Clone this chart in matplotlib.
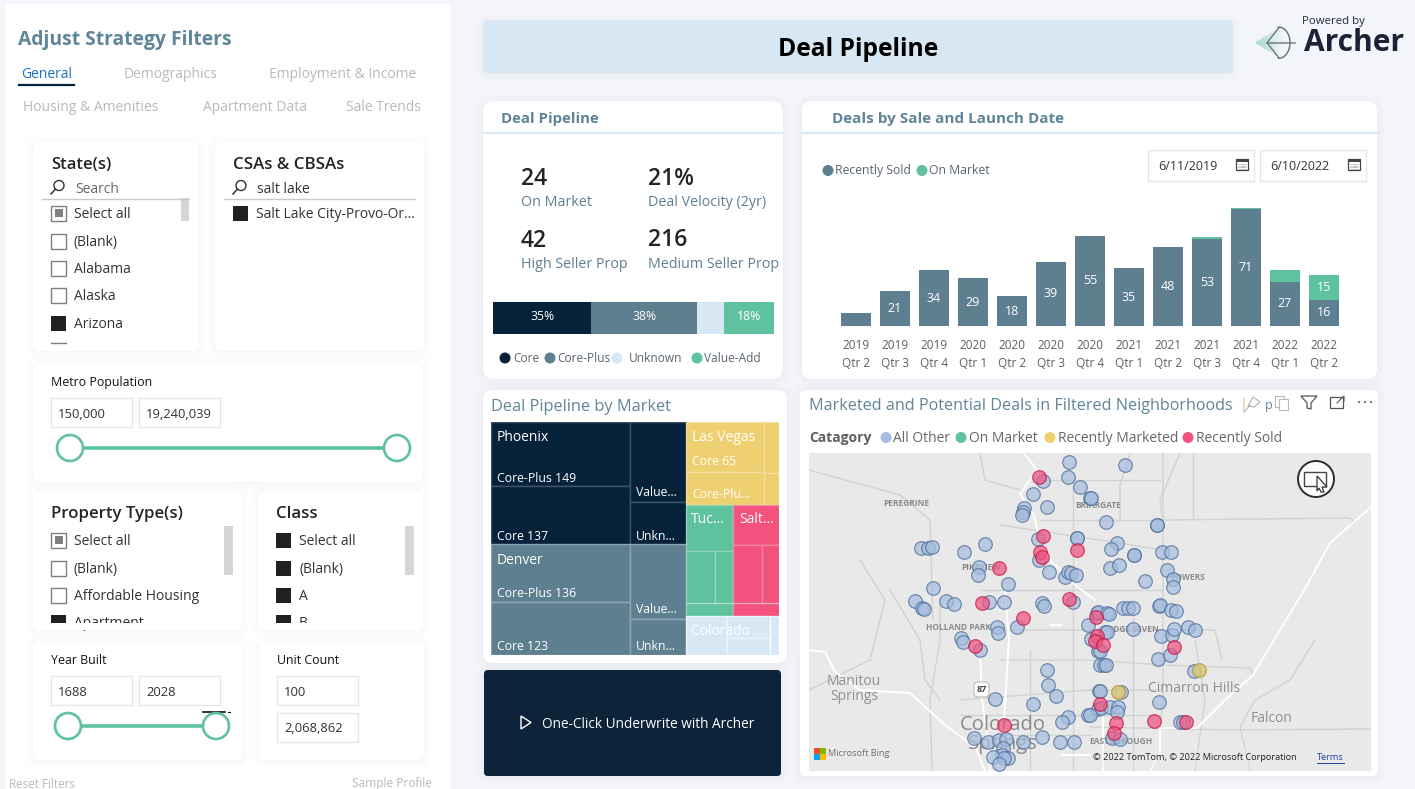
#!/usr/bin/env python3
"""Deal Pipeline dashboard, redrawn with matplotlib. Page is laid out in pixels."""
import matplotlib
matplotlib.use("Agg")
import matplotlib.pyplot as plt
from matplotlib.patches import FancyBboxPatch, Rectangle, Circle, Polygon, Arc

W, H = 1415, 789
plt.rcParams["font.family"] = ["Open Sans", "DejaVu Sans"]

PAGE = "#F3F5FA"; NAVY = "#06223A"; SLATE = "#5E7F90"; PALE = "#D7E8F4"
GREEN = "#5EC29F"; YELLOW = "#EFD070"; PINK = "#F2527B"; INK = "#252423"
HEAD = "#5F8598"; GREY = "#666666"; FAINT = "#B9B9B9"; BOX = "#E6E6E6"

# bars: deals by quarter
QUARTERS = ["2019\nQtr 2", "2019\nQtr 3", "2019\nQtr 4", "2020\nQtr 1", "2020\nQtr 2",
            "2020\nQtr 3", "2020\nQtr 4", "2021\nQtr 1", "2021\nQtr 2", "2021\nQtr 3",
            "2021\nQtr 4", "2022\nQtr 1", "2022\nQtr 2"]
RECENTLY_SOLD = [8, 21, 34, 29, 18, 39, 55, 35, 48, 53, 71, 27, 16]
ON_MARKET = [0, 0, 0, 0, 0, 0, 0, 0, 0, 1, 1, 7, 15]

# strategy split
STRATEGY = ["Core", "Core-Plus", "Unknown", "Value-Add"]
STRATEGY_SHARE = [34.9, 37.7, 9.6, 17.8]

# treemap values
PHOENIX = [149, 137, 75, 40]
DENVER = [136, 123, 70, 34]
LAS_VEGAS = [65, 43, 13, 8]
TUCSON = [36, 25, 16, 10]
SALT_LAKE = [31, 28, 17, 10]
COLORADO = [27, 16, 12, 6]

# map points in screen position
OTHER_X = [1068.7, 1068.3, 1079.7, 1090, 1043.3, 1033.3, 1046.7, 1024.3, 1023.3, 1021.7, 1038.3,
           1076.7, 1076.7, 920.7, 928, 932, 963.7, 985, 979.3, 978.3, 1039.3, 1049, 1065, 1068.3,
           1070.7, 1075.7, 1008.3, 933.3, 1124.7, 1091, 1105.7, 1157, 1157, 1116.7, 1110.7,
           1134.3, 1134.3, 1162.3, 1170.7, 1110, 1119.3, 1167.3, 1145, 1173.3, 1173, 914.7, 922,
           924, 945.7, 954.3, 989.3, 1004.3, 1042.3, 1044, 1073.3, 1096.7, 1017.3, 997.3, 998.3,
           960.7, 962.7, 980, 1046.7, 1047.7, 1056.3, 995, 1032.7, 1068.3, 1062.3, 1088.3, 1042,
           974.3, 1060, 1074, 988.3, 999, 1005.7, 1022.7, 1003.3, 1001.7, 992.7, 1008.3, 1004,
           999, 1088.3, 1090.7, 1098.3, 1100, 1099.3, 1098.3, 1098.3, 1107.3, 1109.3, 1123.3,
           1127.7, 1133.3, 1159.3, 1160, 1171, 1176, 1132.7, 1105, 1106.7, 1160.7, 1172.3, 1173.7,
           1188.3, 1195.3, 1100, 1158.3, 1170.3, 1104, 1106, 1194, 1100, 1159, 1101, 1110, 1118.3,
           1116.7, 1090, 1180, 1182.7, 1111.7, 1120, 1120.7]
OTHER_Y = [462, 477.3, 487, 498, 480.7, 494.3, 507, 508.3, 511.7, 515, 538.7,
           537.7, 538.3, 548.3, 547.7, 547.3, 552, 544.3, 566.7, 575.3, 560, 571.7, 576.7, 572.3,
           572.7, 575, 584, 588.3, 465.3, 498.3, 522, 525, 525, 543, 549.3,
           555.3, 555.3, 552, 552, 568, 565, 570, 580.7, 579, 586.7, 601, 608.3,
           609, 601.3, 604, 601.7, 601.7, 603.3, 606, 601.7, 613.3, 627, 626.7, 633.3,
           637.7, 641.7, 650, 669.7, 684.7, 696, 699.3, 703.7, 717, 722.3, 715, 737,
           737.7, 742.3, 742.3, 741.7, 739.7, 739.3, 741.7, 748.3, 755, 757.3, 758.3, 758.3,
           764.3, 625, 639, 650.7, 665, 691, 709, 611.7, 612.7, 614.3, 607.7,
           608.3, 607.7, 606, 605, 610, 611, 628.7, 631.7, 632.3, 635.7, 635, 629.3,
           626.7, 629.7, 650.7, 658.7, 655.3, 665, 664.7, 671.3, 691, 701.7, 708.3, 706.7, 706.7,
           711.7, 715, 722.3, 722, 737.7, 739, 692.3]
SOLD_X = [1039.3, 1043.3, 1040.3, 1041.7, 1076.7, 999.3, 982, 1068.7, 1022.7, 975, 1004, 1095.7,
          1096.7, 1095, 1102.7, 1173.7, 1100, 1116, 1154.3, 1186.3, 1114]
SOLD_Y = [477.3, 536.3, 551.7, 556.7, 550, 568.3, 602.7, 599, 617.7, 646.3, 724.7, 617.3,
          636, 641, 645, 647.3, 703.7, 722.7, 721, 722, 733]
MARKETED_X = [1198.7, 1118.3]
MARKETED_Y = [669.7, 692]

# base map roads
WHITE_ROADS = [
    [(1024, 453), (1037, 470), (1020, 494), (1034, 516), (1040, 540), (1052, 562), (1075, 585), (1095, 600)],
    [(1005, 590), (1009, 640), (1004, 720), (1002, 771)],
    [(980, 650), (982, 700), (987, 735), (990, 771)],
    [(809, 650), (825, 652), (835, 672), (860, 690), (910, 693), (945, 725), (976, 748), (985, 771)],
    [(1371, 507), (1330, 543), (1306, 587), (1277, 635), (1253, 675), (1223, 702), (1197, 728), (1160, 728), (1160, 752), (1150, 771)],
    [(1103, 712), (1103, 771)],
    [(1050, 625), (1062, 625)],
    [(1062, 755), (1090, 755)],
]
GREY_ROADS = [
    [(1163, 520), (1350, 518), (1354, 522)],
    [(1193, 453), (1193, 519)],
    [(1090, 727), (1230, 730), (1370, 729)],
    [(1163, 453), (1163, 700), (1160, 728)],
    [(1130, 453), (1120, 485), (1120, 520)],
    [(1073, 480), (1073, 560), (1073, 771)],
    [(1040, 480), (1160, 480)],
    [(1040, 520), (1163, 520)],
    [(1000, 525), (1100, 540), (1163, 550)],
    [(1000, 660), (1090, 660), (1163, 665), (1250, 668), (1253, 675)],
    [(960, 700), (1090, 690), (1160, 690)],
    [(990, 630), (1090, 630), (1215, 630), (1222, 660)],
    [(980, 590), (1050, 590), (1163, 590)],
    [(940, 600), (940, 640), (930, 700), (932, 771)],
    [(890, 590), (920, 640), (925, 680), (940, 700)],
    [(1030, 650), (1030, 771)],
    [(1133, 600), (1133, 771)],
    [(1195, 640), (1205, 700), (1195, 771)],
    [(809, 470), (900, 495), (930, 520), (933, 620)],
    [(980, 453), (985, 480), (1020, 490)],
    [(1250, 770), (1240, 727), (1255, 700), (1290, 680), (1315, 640)],
    [(1180, 453), (1160, 500), (1163, 520)],
    [(809, 690), (870, 660), (885, 600), (860, 560)],
    [(990, 735), (1090, 735)],
    [(960, 715), (1160, 715)],
]
ROAD_LABELS = ["PEREGRINE", "BRIARGATE", "POWERS", "HOLLAND PARK", "PIKEVIEW", "RIDGE SEVEN", "EASTBOROUGH"]
ROAD_LABEL_X = [906, 1098, 1188, 958, 981, 1132, 1121]
ROAD_LABEL_Y = [503, 505, 577, 628, 567, 630, 742]
PLACES = ["Manitou\nSprings", "Cimarron Hills", "Falcon"]
PLACE_X = [854, 1194, 1272]
PLACE_Y = [689, 689, 718]

fig = plt.figure(figsize=(W / 100, H / 100), dpi=100, facecolor=PAGE)
bg = fig.add_axes([0, 0, 1, 1])
bg.set_xlim(0, W)
bg.set_ylim(H, 0)
bg.axis("off")


def px_axes(x0, y0, x1, y1):
    return fig.add_axes([x0 / W, 1 - y1 / H, (x1 - x0) / W, (y1 - y0) / H])


def txt(x, y, s, size=10, color=INK, weight="normal", ha="left", va="center", ax=None, **kw):
    return (ax or bg).text(x, y + 1.5, s, fontsize=size, color=color, fontweight=weight, ha=ha, va=va, **kw)


def card(x0, y0, x1, y1, r=7, fc="white", shadow=True):
    if shadow:
        for g in (10, 7, 4, 2):
            bg.add_patch(FancyBboxPatch((x0 - g + 2, y0 - g + 3), x1 - x0 + 2 * g - 4, y1 - y0 + 2 * g - 4,
                                        boxstyle=f"round,pad=0,rounding_size={r + g}", fc="#000000",
                                        ec="none", alpha=0.009))
    bg.add_patch(FancyBboxPatch((x0, y0), x1 - x0, y1 - y0, boxstyle=f"round,pad=0,rounding_size={r}",
                                fc=fc, ec="none"))


def box(x0, y0, x1, y1, label=None):
    bg.add_patch(Rectangle((x0, y0), x1 - x0, y1 - y0, fc="white", ec=BOX, lw=1))
    if label:
        txt(x0 + 7, (y0 + y1) / 2, label, 9.4, "#333333")


def check(x, y, state):
    # state: 0 empty, 1 filled, 2 partly selected
    if state == 1:
        bg.add_patch(Rectangle((x, y - 7.5), 15, 15, fc="#212121", ec="none"))
    else:
        bg.add_patch(Rectangle((x, y - 7.5), 15, 15, fc="white", ec="#7F7F7F", lw=1))
        if state == 2:
            bg.add_patch(Rectangle((x + 3.5, y - 4), 8, 8, fc="#7F7F7F", ec="none"))


def rows(x, ys, labels, states, tx=23):
    for yy, s, st in zip(ys, labels, states):
        check(x, yy, st)
        txt(x + tx, yy, s, 10, "#333333")


def magnifier(x, y):
    bg.add_patch(Circle((x + 3, y - 2.5), 5, fc="none", ec="#333333", lw=1))
    bg.plot([x - 5, x - 0.5], [y + 6, y + 1], color="#333333", lw=1.1)


def slider(x0, x1, y):
    bg.plot([x0, x1], [y, y], color=GREEN, lw=2.6, solid_capstyle="butt")
    for xx in (x0, x1):
        bg.add_patch(Circle((xx, y), 13, fc="white", ec=GREEN, lw=1.9, zorder=3))


def calendar(x, y):
    bg.add_patch(Rectangle((x, y - 5), 12, 11, fc="white", ec="#444444", lw=0.9))
    bg.add_patch(Rectangle((x, y - 5), 12, 2.6, fc="#444444", ec="none"))
    for i in range(4):
        bg.plot([x + 2, x + 10], [y + i * 1.5, y + i * 1.5], color="#777777", lw=0.5, ls=(0, (1, 0.7)))


# ---------- left filter panel ----------
bg.add_patch(Rectangle((5, 4), 445, 785, fc="white", ec="none"))
txt(18, 38, "Adjust Strategy Filters", 13.9, HEAD, "bold")
tabs = ["General", "Demographics", "Employment & Income", "Housing & Amenities", "Apartment Data", "Sale Trends"]
for s, x, y in zip(tabs, [21, 124, 269, 23, 203, 346], [73, 73, 73, 106, 106, 106]):
    txt(x, y, s, 10, "#1B72C4" if s == "General" else FAINT)
bg.plot([19, 74], [85, 85], color=NAVY, lw=1.6)

card(33, 142, 198, 351)
card(215, 142, 424, 351)
card(33, 364, 423, 482)
card(33, 492, 242, 630)
card(258, 492, 423, 630)
card(33, 642, 242, 760)
card(259, 642, 424, 760)

txt(51, 163, "State(s)", 12, INK, "semibold")
magnifier(56, 188)
txt(75, 188, "Search", 10, GREY)
bg.plot([42, 189], [198.5, 198.5], color="#C8C8C8", lw=1)
bg.add_patch(Rectangle((181, 198), 8, 23, fc="#D6D6D4", ec="none"))
rows(51, [213, 241, 268, 295, 323], ["Select all", "(Blank)", "Alabama", "Alaska", "Arizona"], [2, 0, 0, 0, 1])
bg.plot([51, 66], [343, 343], color="#7F7F7F", lw=1)

txt(233, 163, "CSAs & CBSAs", 12.2, INK, "semibold")
magnifier(238, 188)
txt(257, 188, "salt lake", 10, "#333333")
bg.plot([224, 415], [198.5, 198.5], color="#C8C8C8", lw=1)
rows(233, [213], ["Salt Lake City-Provo-Or..."], [1])

txt(51, 381, "Metro Population", 8.9, "#111111", "medium")
box(51, 398, 132, 427, "150,000")
box(139, 398, 220, 427, "19,240,039")
slider(70, 397, 448)

txt(51, 513, "Property Type(s)", 12.1, INK, "semibold")
rows(51, [540, 568, 595, 622], ["Select all", "(Blank)", "Affordable Housing", "Apartment"], [2, 0, 0, 1])
bg.add_patch(Rectangle((224, 526), 9, 49, fc="#D6D6D4", ec="none"))
txt(276, 513, "Class", 12.1, INK, "semibold")
rows(276, [540, 568, 595, 622], ["Select all", "(Blank)", "A", "B"], [1, 1, 1, 1])
bg.add_patch(Rectangle((405, 526), 9, 49, fc="#D6D6D4", ec="none"))
bg.add_patch(Rectangle((45, 623), 190, 7, fc="white", ec="none", zorder=3))
bg.add_patch(Rectangle((270, 623), 145, 7, fc="white", ec="none", zorder=3))

txt(51, 659, "Year Built", 8.9, "#111111", "medium")
box(51, 676, 132, 705, "1688")
box(139, 676, 220, 705, "2028")
bg.plot([203, 225], [712, 712], color="#111111", lw=1.2)
bg.plot([228, 230], [712, 712], color="#111111", lw=0.8)
slider(68, 216, 726)
txt(277, 659, "Unit Count", 8.9, "#111111", "medium")
box(277, 676, 358, 705, "100")
box(277, 713, 358, 742, "2,068,862")

txt(9, 783, "Reset Filters", 8.4, FAINT)
txt(352, 782, "Sample Profile", 8.6, FAINT)

# ---------- header ----------
card(483, 20, 1233, 73, r=6, fc=PALE)
txt(858, 48, "Deal Pipeline", 17.7, "#000000", "bold", ha="center")
txt(1302, 20, "Powered by", 8.2, "#1D2B40")
txt(1304, 41.5, "Archer", 21.5, "#1B2238", "bold")
for i in range(12):
    xa = 1255 + i * 2.2
    half = (xa - 1255) * 0.62
    bg.add_patch(Polygon([(xa, 42.7 - half), (xa + 2.2, 42.7 - half - 1.4), (xa + 2.2, 42.7 + half + 1.4), (xa, 42.7 + half)],
                         fc=GREEN, ec="none", alpha=0.55 * (1 - i / 12)))
bg.add_patch(Arc((1279, 42.7), 22, 31, theta1=-95, theta2=95, ec="#5E6E72", lw=1))
bg.plot([1279, 1267, 1279], [27.5, 42.7, 58], color="#5E6E72", lw=0.9)
bg.plot([1267, 1295], [42.7, 42.7], color="#6F8088", lw=1.1)

# ---------- pipeline card ----------
card(483, 101, 783, 379, r=12)
txt(501, 117.5, "Deal Pipeline", 10.8, HEAD, "bold")
bg.plot([483, 783], [133, 133], color="#DDEBF6", lw=1.6)
for x, y, s in [(521, 177, "24"), (648, 177, "21%"), (521, 239, "42"), (648, 238, "216")]:
    txt(x, y, s, 16.5, INK, "semibold")
for x, y, s in [(521, 200.5, "On Market"), (648, 200.5, "Deal Velocity (2yr)"),
                (521, 263.5, "High Seller Prop"), (648, 262.5, "Medium Seller Prop")]:
    txt(x, y, s, 10.3, SLATE)

ax = px_axes(493, 301.5, 774, 333.5)
left = 0
cols = [NAVY, SLATE, PALE, GREEN]
for name, v, c in zip(STRATEGY, STRATEGY_SHARE, cols):
    ax.barh(0, v, left=left, height=1, color=c, label=name)
    if name != "Unknown":
        ax.text(left + v / 2, 0.03, f"{v:.0f}%", color="white", fontsize=8.8, ha="center", va="center")
    left += v
ax.set_xlim(0, sum(STRATEGY_SHARE))
ax.set_ylim(-0.5, 0.5)
ax.axis("off")
for name, c, dx, tx in zip(STRATEGY, cols, [505, 550, 617, 697], [513, 557, 629, 704]):
    bg.add_patch(Circle((dx, 358), 5.5, fc=c, ec="none"))
    txt(tx, 356.5, name, 8.6, "#5A6570")

# ---------- deals by date card ----------
card(802, 101, 1377, 379, r=10)
txt(832, 117.5, "Deals by Sale and Launch Date", 11, HEAD, "bold")
bg.plot([802, 1377], [133, 133], color="#D7E8F4", lw=1.6)
bg.add_patch(Circle((828, 170.5), 5.5, fc=SLATE, ec="none"))
txt(835, 169, "Recently Sold", 8.8, "#5A6570")
bg.add_patch(Circle((922, 170.5), 5.5, fc=GREEN, ec="none"))
txt(929, 169, "On Market", 8.8, "#5A6570")
box(1148, 150, 1254, 181)
txt(1158, 165, "6/11/2019", 9, "#333333")
calendar(1236, 164)
box(1260, 150, 1366, 181)
txt(1270, 165, "6/10/2022", 9, "#333333")
calendar(1348, 164)

ax = px_axes(836.5, 195, 1343.5, 326)
ax.patch.set_alpha(0)
xs = list(range(len(QUARTERS)))
ax.bar(xs, RECENTLY_SOLD, width=0.785, color=SLATE)
ax.bar(xs, ON_MARKET, width=0.785, bottom=RECENTLY_SOLD, color=GREEN)
for i, (a, b) in enumerate(zip(RECENTLY_SOLD, ON_MARKET)):
    if a >= 16:
        ax.text(i, a / 2, str(a), color="white", fontsize=9, ha="center", va="center")
    if b >= 15:
        ax.text(i, a + b / 2, str(b), color="white", fontsize=9, ha="center", va="center")
ax.set_xlim(-0.5, 12.5)
ax.set_ylim(0, 131 / 1.643)
ax.set_xticks(xs)
ax.set_xticklabels(QUARTERS, fontsize=8.5, color="#5E5E5E", linespacing=1.5)
ax.set_yticks([])
ax.tick_params(length=0, pad=9)
for s in ax.spines.values():
    s.set_visible(False)

# ---------- treemap card ----------
card(483, 390, 787, 663, r=10)
txt(491, 405.5, "Deal Pipeline by Market", 11.8, HEAD, "medium")


def split(x, y, w, h, vals, across):
    # cut a box in pieces sized by vals, left to right if across, else top to bottom
    out = []
    tot = sum(vals)
    for v in vals:
        if across:
            d = w * v / tot
            out.append((x, y, d, h))
            x += d
        else:
            d = h * v / tot
            out.append((x, y, w, d))
            y += d
    return out


tm = px_axes(491, 422, 779, 655)
tm.set_xlim(0, 288)
tm.set_ylim(233, 0)
tm.axis("off")


def draw(rects, color, line="#FFFFFF", alpha=0.22):
    for r in rects:
        tm.add_patch(Rectangle((r[0], r[1]), r[2], r[3], fc=color, ec="none"))
        tm.add_patch(Rectangle((r[0], r[1]), r[2], r[3], fc="none", ec=line, lw=1, alpha=alpha))


def two_cols(r, vals):
    a, b = split(*r, [sum(vals[:2]), sum(vals[2:])], True)
    return split(*a, vals[:2], False) + split(*b, vals[2:], False)


lc, rc = split(0, 0, 288, 233, [sum(PHOENIX) + sum(DENVER),
                                sum(LAS_VEGAS) + sum(TUCSON) + sum(SALT_LAKE) + sum(COLORADO)], True)
ph, de = split(*lc, [sum(PHOENIX), sum(DENVER)], False)
lv, mid, co = split(*rc, [sum(LAS_VEGAS), sum(TUCSON) + sum(SALT_LAKE), sum(COLORADO)], False)
tu, sa = split(*mid, [sum(TUCSON), sum(SALT_LAKE)], True)

ph_r = two_cols(ph, PHOENIX)
de_r = two_cols(de, DENVER)
lv_r = two_cols(lv, LAS_VEGAS)
draw(ph_r, NAVY)
draw(de_r, SLATE, alpha=0.3)
draw(lv_r, YELLOW, alpha=0.3)
for blk, vals, col in ((tu, TUCSON, GREEN), (sa, SALT_LAKE, PINK)):
    t, m, b = split(*blk, [vals[0], vals[1] + vals[2], vals[3]], False)
    draw([t, b] + split(*m, vals[1:3], True), col, alpha=0.3)
a, b, c = split(*co, [COLORADO[0], COLORADO[1] + COLORADO[2], COLORADO[3]], True)
draw([a, c] + split(*b, COLORADO[1:3], False), PALE, alpha=0.6)


def tm_bottom(r, s, size=8.8, dy=7.5):
    tm.text(r[0] + 6, r[1] + r[3] - dy, s, color="white", fontsize=size, va="center", ha="left")


tm.text(6, 15, "Phoenix", color="white", fontsize=10, va="center")
tm.text(6, 138, "Denver", color="white", fontsize=10, va="center")
tm_bottom(ph_r[0], f"Core-Plus {PHOENIX[0]}")
tm_bottom(ph_r[1], f"Core {PHOENIX[1]}")
tm_bottom(ph_r[2], "Value...", dy=9)
tm_bottom(ph_r[3], "Unkn...")
tm_bottom(de_r[0], f"Core-Plus {DENVER[0]}", dy=9)
tm_bottom(de_r[1], f"Core {DENVER[1]}", dy=9)
tm_bottom(de_r[2], "Value...", dy=9)
tm_bottom(de_r[3], "Unkn...", dy=9)
tm.text(lv[0] + 6, 15, "Las Vegas", color="white", fontsize=10, va="center")
tm_bottom(lv_r[0], f"Core {LAS_VEGAS[0]}", dy=10)
tm_bottom(lv_r[1], "Core-Plu...", dy=10)
tm.text(tu[0] + 5, tu[1] + 15, "Tuc...", color="white", fontsize=10, va="center")
tm.text(sa[0] + 6, sa[1] + 15, "Salt...", color="white", fontsize=10, va="center")
tm.text(co[0] + 5, co[1] + 16, "Colorado ...", color="white", fontsize=10, va="center")

# ---------- call to action ----------
card(484, 670, 781, 776, r=4, fc="#0C2339")
bg.add_patch(Polygon([(521, 716), (531, 722.5), (521, 729)], fc="none", ec="white", lw=1))
txt(542, 722.5, "One-Click Underwrite with Archer", 9.8, "white")

# ---------- map card ----------
card(800, 390, 1378, 776, r=6)
txt(809, 404, "Marketed and Potential Deals in Filtered Neighborhoods", 11.65, HEAD, "medium")
txt(1240, 404, "|", 10, "#D9B48F")
txt(1265, 404, "p", 9, HEAD)
bg.add_patch(Polygon([(1248, 406), (1253, 397), (1260, 402), (1254, 407)], fc="white", ec="#B0B0B0", lw=0.8))
bg.plot([1245, 1250], [411, 405], color="#B0B0B0", lw=0.8)
bg.add_patch(Rectangle((1275, 396), 9, 11, fc="white", ec="#B8B8B8", lw=0.8))
bg.add_patch(Rectangle((1279, 399), 9, 11, fc="white", ec="#B8B8B8", lw=0.8))
bg.add_patch(Polygon([(1301, 396), (1317, 396), (1311, 403), (1311, 409), (1307, 408), (1307, 403)], fc="none", ec="#555555", lw=0.9))
bg.add_patch(Rectangle((1330, 397), 13, 11, fc="none", ec="#555555", lw=0.9))
bg.plot([1337, 1344, 1344, 1344], [403, 396, 396, 401], color="#555555", lw=0.8)
for xx in (1359, 1365, 1371):
    bg.add_patch(Circle((xx, 402), 1, fc="#555555", ec="none"))

txt(809, 436.5, "Catagory", 10, "#5F5F5F", "bold")
for dx, tx, s, c in [(886, 893, "All Other", "#A5BDDE"), (961, 969, "On Market", GREEN),
                     (1050, 1058, "Recently Marketed", YELLOW), (1188, 1196, "Recently Sold", PINK)]:
    bg.add_patch(Circle((dx, 437.5), 5.5, fc=c, ec="none"))
    txt(tx, 436.5, s, 10, "#666666")

mp = px_axes(809, 453, 1371, 771)
mp.set_xlim(809, 1371)
mp.set_ylim(771, 453)
mp.set_facecolor("#E9E9E9")
mp.set_xticks([])
mp.set_yticks([])
for s in mp.spines.values():
    s.set_visible(False)
for road in GREY_ROADS:
    mp.plot([p[0] for p in road], [p[1] for p in road], color="#D2D2D2", lw=1, zorder=1)
for road in WHITE_ROADS:
    mp.plot([p[0] for p in road], [p[1] for p in road], color="white", lw=1.4, zorder=2)
for s, x, y in zip(ROAD_LABELS, ROAD_LABEL_X, ROAD_LABEL_Y):
    mp.text(x, y, s, fontsize=6, color="#8A8A8A", fontweight="bold", ha="center", va="center", zorder=3)
for s, x, y in zip(PLACES, PLACE_X, PLACE_Y):
    mp.text(x, y, s, fontsize=10, color="#8F8F8F", ha="center", va="center", linespacing=1.05, zorder=3)
mp.text(1003, 734.5, "Colorado\nSprings", fontsize=14.5, color="#8A8A8A", ha="center", va="center",
        linespacing=0.95, zorder=3)
mp.add_patch(FancyBboxPatch((974, 682), 15, 15, boxstyle="round,pad=0,rounding_size=4", fc="white", ec="#BBBBBB", lw=0.8, zorder=3))
mp.text(981.5, 690, "87", fontsize=6.5, color="#444444", fontweight="bold", ha="center", va="center", zorder=4)

mp.scatter(OTHER_X, OTHER_Y, s=96, c="#A5BDDE", alpha=0.72, edgecolors="#4A6C98", linewidths=0.9, zorder=5)
mp.scatter(MARKETED_X, MARKETED_Y, s=96, c="#DCC877", alpha=0.85, edgecolors="#B49A3C", linewidths=0.9, zorder=6)
mp.scatter(SOLD_X, SOLD_Y, s=96, c="#EE5480", alpha=0.72, edgecolors="#C4103F", linewidths=0.9, zorder=7)

# hover badge, logo, attribution
mp.add_patch(Circle((1316, 479), 18, fc="white", ec="#222222", lw=1.4, alpha=0.95, zorder=8))
mp.add_patch(Rectangle((1304, 472), 22, 14, fc="none", ec="#444444", lw=1, zorder=9))
mp.add_patch(Polygon([(1317, 476), (1327, 487), (1322, 487), (1324, 492), (1321, 492), (1319, 488), (1317, 491)],
                     fc="white", ec="#333333", lw=0.9, zorder=10))
for x, y, c in [(814, 748, "#F25022"), (820, 748, "#7FBA00"), (814, 754, "#00A4EF"), (820, 754, "#FFB900")]:
    mp.add_patch(Rectangle((x, y), 5.5, 5.5, fc=c, ec="none", zorder=8))
mp.text(828, 754, "Microsoft Bing", fontsize=6.6, color="#6F6F6F", va="center", zorder=8)
mp.add_patch(Rectangle((1090, 748), 281, 20, fc="#E9E9E9", ec="none", alpha=0.35, zorder=8))
mp.text(1093, 757, "© 2022 TomTom, © 2022 Microsoft Corporation", fontsize=6.6, color="#222222", va="center", zorder=9)
mp.text(1317, 757, "Terms", fontsize=6.6, color="#1F3FA0", va="center", zorder=9)
mp.plot([1317, 1344], [762.5, 762.5], color="#1F3FA0", lw=0.7, zorder=9)

fig.savefig("out.png", dpi=100, facecolor=PAGE)
